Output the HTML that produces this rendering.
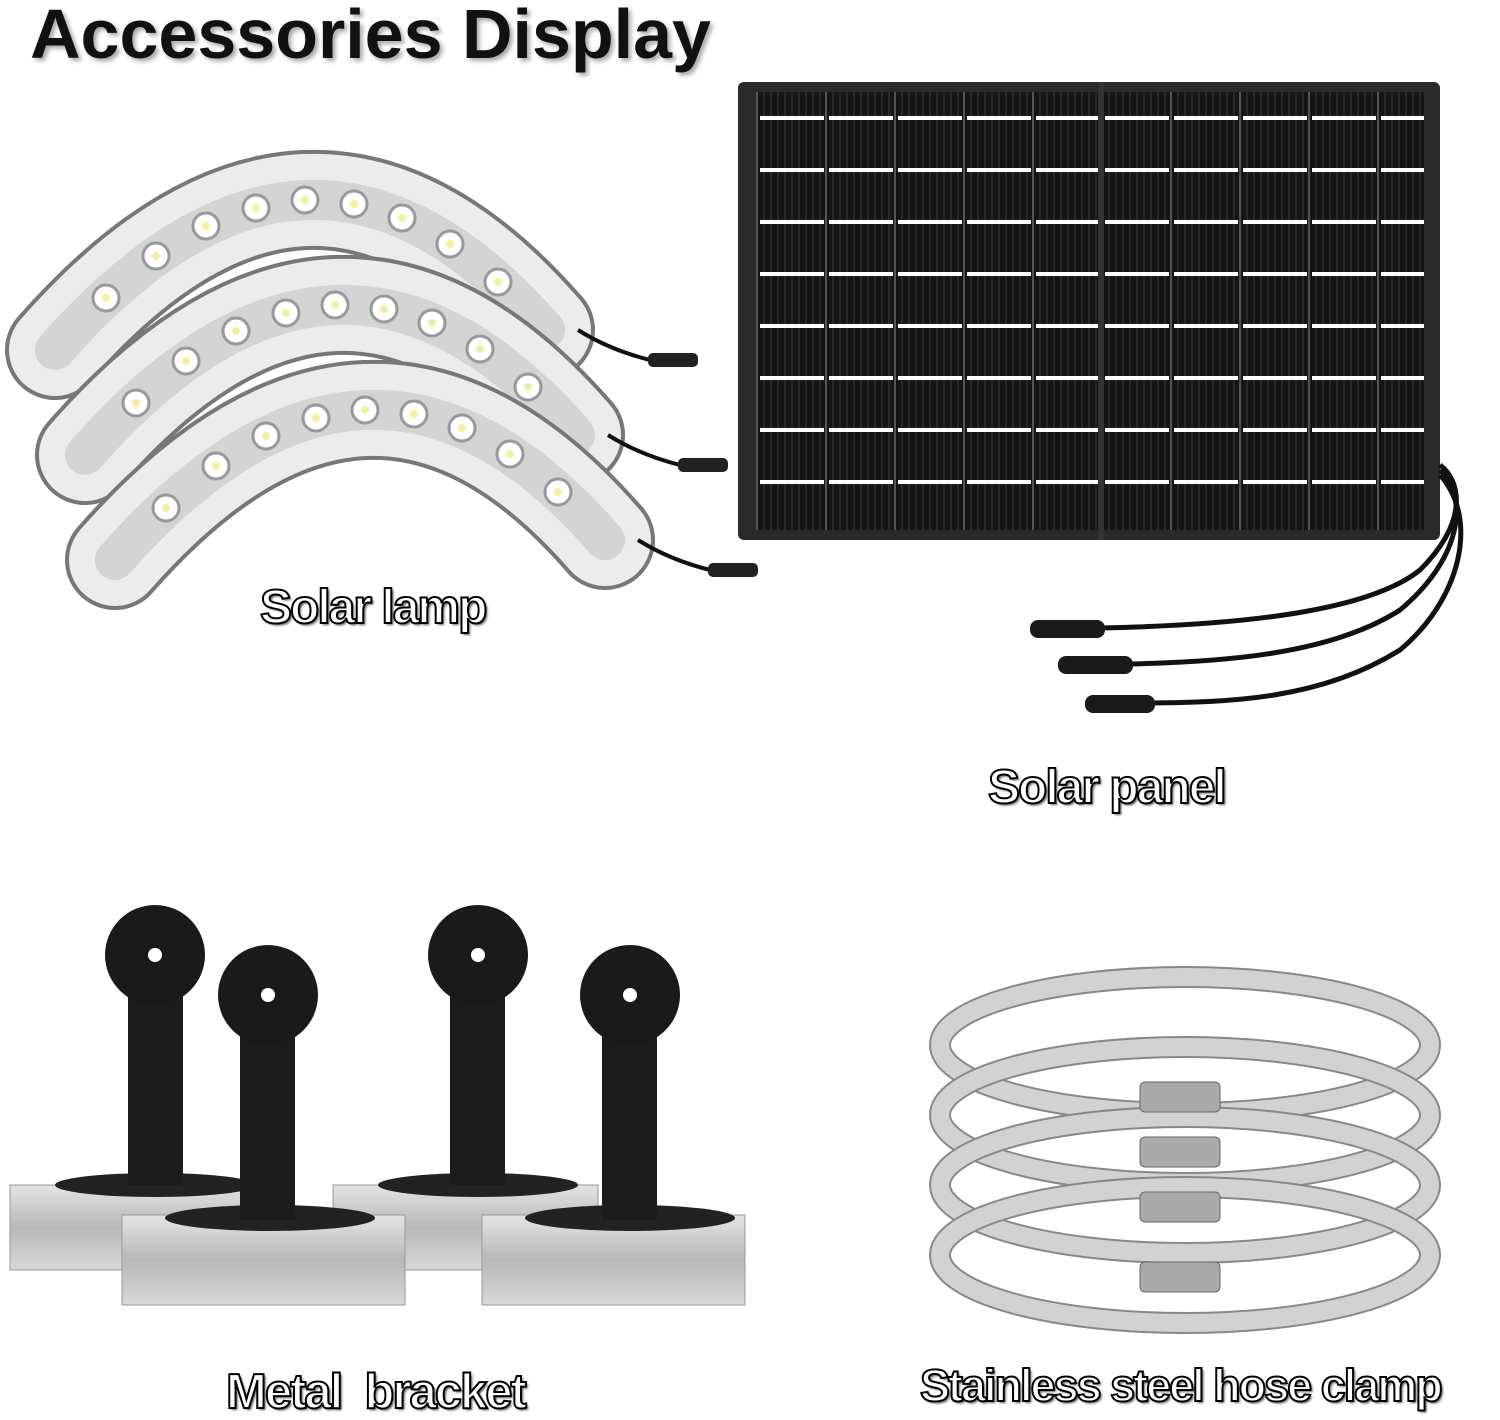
<!DOCTYPE html>
<html><head><meta charset="utf-8"><style>
html,body{margin:0;padding:0;background:#fff;}
body{width:1500px;height:1420px;position:relative;overflow:hidden;font-family:"Liberation Sans",sans-serif;}
.t{position:absolute;font-weight:bold;color:#111;white-space:nowrap;}
.l{position:absolute;font-size:47px;color:#fff;-webkit-text-stroke:2px #000;font-weight:bold;letter-spacing:-2px;white-space:pre;text-shadow:2px 2px 2px #666;}
</style></head><body>
<svg width="1500" height="1420" style="position:absolute;left:0;top:0">
<defs>
<linearGradient id="pl" x1="0" y1="0" x2="0" y2="1"><stop offset="0" stop-color="#e4e4e4"/><stop offset="0.5" stop-color="#b8b8b8"/><stop offset="1" stop-color="#d8d8d8"/></linearGradient>
<pattern id="cells" x="758" y="94" width="69" height="52" patternUnits="userSpaceOnUse">
<rect width="69" height="52" fill="#151515"/>
<g stroke="#3a3a3a" stroke-width="1">
<line x1="6" y1="0" x2="6" y2="52"/><line x1="13" y1="0" x2="13" y2="52"/><line x1="20" y1="0" x2="20" y2="52"/><line x1="27" y1="0" x2="27" y2="52"/><line x1="34" y1="0" x2="34" y2="52"/><line x1="41" y1="0" x2="41" y2="52"/><line x1="48" y1="0" x2="48" y2="52"/><line x1="55" y1="0" x2="55" y2="52"/><line x1="62" y1="0" x2="62" y2="52"/></g>
<rect x="67" y="0" width="2" height="52" fill="#555"/>
<rect x="2" y="22" width="64" height="4" fill="#fff"/>
</pattern>
<g id="lamp">
<path d="M55,350 Q310,60 545,330" fill="none" stroke="#777" stroke-width="100" stroke-linecap="round"/>
<path d="M55,350 Q310,60 545,330" fill="none" stroke="#ececec" stroke-width="92" stroke-linecap="round"/>
<path d="M55,350 Q310,60 545,330" fill="none" stroke="#d4d4d4" stroke-width="40" stroke-linecap="round"/>
<g fill="#fff" stroke="#999" stroke-width="3">
<circle cx="106" cy="298" r="13"/><circle cx="156" cy="256" r="13"/><circle cx="206" cy="226" r="13"/><circle cx="256" cy="208" r="13"/><circle cx="305" cy="200" r="13"/><circle cx="354" cy="204" r="13"/><circle cx="402" cy="218" r="13"/><circle cx="450" cy="244" r="13"/><circle cx="498" cy="282" r="13"/></g>
<g fill="#f4f0a0"><circle cx="106" cy="298" r="4"/><circle cx="156" cy="256" r="4"/><circle cx="206" cy="226" r="4"/><circle cx="256" cy="208" r="4"/><circle cx="305" cy="200" r="4"/><circle cx="354" cy="204" r="4"/><circle cx="402" cy="218" r="4"/><circle cx="450" cy="244" r="4"/><circle cx="498" cy="282" r="4"/></g>
<path d="M578,330 Q610,350 650,360" fill="none" stroke="#111" stroke-width="4"/>
<rect x="648" y="353" width="50" height="14" rx="5" fill="#222"/>
</g>
</defs>
<use href="#lamp"/>
<use href="#lamp" transform="translate(30,105)"/>
<use href="#lamp" transform="translate(60,210)"/>

<rect x="738" y="82" width="702" height="458" rx="6" fill="#2a2a2a"/>
<rect x="756" y="92" width="668" height="438" fill="url(#cells)"/>
<rect x="1098" y="82" width="6" height="458" fill="#333"/>
<g fill="none" stroke="#111" stroke-width="5">
<path d="M1440,465 C1460,480 1470,520 1420,570 C1370,610 1250,625 1100,628"/>
<path d="M1440,470 C1470,500 1460,560 1400,610 C1330,655 1220,662 1130,664"/>
<path d="M1440,475 C1480,520 1460,600 1400,650 C1320,700 1230,702 1150,703"/>
</g>
<rect x="1030" y="620" width="75" height="18" rx="8" fill="#1a1a1a"/>
<rect x="1058" y="656" width="75" height="18" rx="8" fill="#1a1a1a"/>
<rect x="1085" y="695" width="70" height="18" rx="8" fill="#1a1a1a"/>

<g>
<rect x="10" y="1185" width="235" height="85" fill="url(#pl)" stroke="#999"/>
<rect x="333" y="1185" width="265" height="85" fill="url(#pl)" stroke="#999"/>
<ellipse cx="155" cy="1185" rx="100" ry="12" fill="#222"/>
<ellipse cx="478" cy="1185" rx="100" ry="12" fill="#222"/>
<rect x="128" y="955" width="55" height="230" fill="#1c1c1c"/>
<rect x="450" y="955" width="55" height="230" fill="#1c1c1c"/>
<circle cx="155" cy="955" r="50" fill="#1a1a1a"/><circle cx="155" cy="955" r="7" fill="#fff"/>
<circle cx="478" cy="955" r="50" fill="#1a1a1a"/><circle cx="478" cy="955" r="7" fill="#fff"/>
<rect x="122" y="1215" width="283" height="90" fill="url(#pl)" stroke="#999"/>
<rect x="482" y="1215" width="263" height="90" fill="url(#pl)" stroke="#999"/>
<ellipse cx="270" cy="1218" rx="105" ry="13" fill="#222"/>
<ellipse cx="630" cy="1218" rx="105" ry="13" fill="#222"/>
<rect x="240" y="995" width="55" height="225" fill="#1c1c1c"/>
<rect x="602" y="995" width="55" height="225" fill="#1c1c1c"/>
<circle cx="268" cy="995" r="50" fill="#1a1a1a"/><circle cx="268" cy="995" r="7" fill="#fff"/>
<circle cx="630" cy="995" r="50" fill="#1a1a1a"/><circle cx="630" cy="995" r="7" fill="#fff"/>
</g>

<g fill="none">
<ellipse cx="1185" cy="1045" rx="245" ry="68" stroke="#888" stroke-width="22"/>
<ellipse cx="1185" cy="1045" rx="245" ry="68" stroke="#d2d2d2" stroke-width="18"/>
<ellipse cx="1185" cy="1115" rx="245" ry="68" stroke="#888" stroke-width="22"/>
<ellipse cx="1185" cy="1115" rx="245" ry="68" stroke="#d2d2d2" stroke-width="18"/>
<ellipse cx="1185" cy="1185" rx="245" ry="68" stroke="#888" stroke-width="22"/>
<ellipse cx="1185" cy="1185" rx="245" ry="68" stroke="#d2d2d2" stroke-width="18"/>
<ellipse cx="1185" cy="1255" rx="245" ry="68" stroke="#888" stroke-width="22"/>
<ellipse cx="1185" cy="1255" rx="245" ry="68" stroke="#d2d2d2" stroke-width="18"/>
</g>
<g fill="#aaa" stroke="#666">
<rect x="1140" y="1082" width="80" height="30" rx="5"/>
<rect x="1140" y="1137" width="80" height="30" rx="5"/>
<rect x="1140" y="1192" width="80" height="30" rx="5"/>
<rect x="1140" y="1262" width="80" height="30" rx="5"/>
</g>
</svg>
<div class="t" style="left:30px;top:-6px;font-size:70px;text-shadow:3px 3px 4px #aaa;">Accessories Display</div>
<div class="l" style="left:260px;top:580px;font-size:48px;">Solar lamp</div>
<div class="l" style="left:988px;top:760px;font-size:48px;">Solar panel</div>
<div class="l" style="left:226px;top:1364px;font-size:49px;">Metal  bracket</div>
<div class="l" style="left:920px;top:1360px;font-size:45px;">Stainless steel hose clamp</div>
</body></html>
